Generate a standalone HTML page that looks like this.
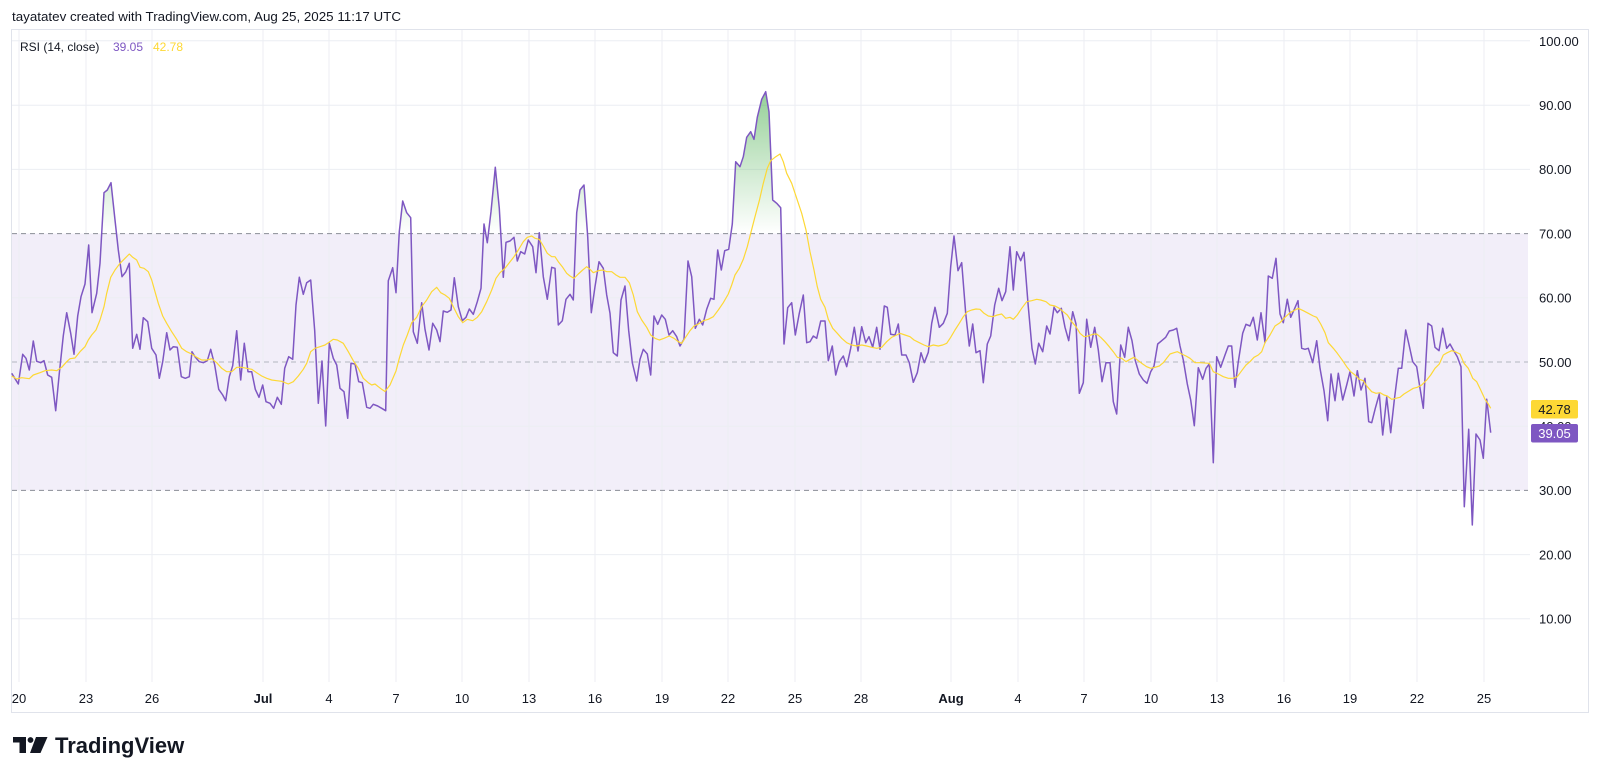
<!DOCTYPE html>
<html><head><meta charset="utf-8"><style>
html,body{margin:0;padding:0;background:#fff;}
svg{display:block;}
text{font-family:"Liberation Sans",sans-serif;}
</style></head><body>
<svg width="1600" height="779" viewBox="0 0 1600 779" xmlns="http://www.w3.org/2000/svg">
<defs>
<linearGradient id="gf" gradientUnits="userSpaceOnUse" x1="0" y1="41" x2="0" y2="233.6">
<stop offset="0" stop-color="#4caf50" stop-opacity="0.8"/>
<stop offset="1" stop-color="#4caf50" stop-opacity="0"/>
</linearGradient>
<clipPath id="above"><rect x="12" y="30" width="1516" height="203.6"/></clipPath>
</defs>
<rect width="1600" height="779" fill="#fff"/>
<text x="12" y="21" font-size="13" fill="#131722" textLength="389" lengthAdjust="spacingAndGlyphs">tayatatev created with TradingView.com, Aug 25, 2025 11:17 UTC</text>

<!-- band -->
<rect x="12" y="233.6" width="1516" height="256.8" fill="#7E57C2" fill-opacity="0.1"/>

<!-- grid -->
<g stroke="#eceef3" stroke-width="1">
<line x1="12" y1="40.7" x2="1530" y2="40.7"/>
<line x1="12" y1="105.2" x2="1530" y2="105.2"/>
<line x1="12" y1="169.4" x2="1530" y2="169.4"/>
<line x1="12" y1="297.8" x2="1528" y2="297.8"/>
<line x1="12" y1="426.2" x2="1528" y2="426.2"/>
<line x1="12" y1="554.6" x2="1530" y2="554.6"/>
<line x1="12" y1="618.8" x2="1530" y2="618.8"/>
<line x1="19" y1="30" x2="19" y2="682"/>
<line x1="86" y1="30" x2="86" y2="682"/>
<line x1="152" y1="30" x2="152" y2="682"/>
<line x1="263" y1="30" x2="263" y2="682"/>
<line x1="329" y1="30" x2="329" y2="682"/>
<line x1="396" y1="30" x2="396" y2="682"/>
<line x1="462" y1="30" x2="462" y2="682"/>
<line x1="529" y1="30" x2="529" y2="682"/>
<line x1="595" y1="30" x2="595" y2="682"/>
<line x1="662" y1="30" x2="662" y2="682"/>
<line x1="728" y1="30" x2="728" y2="682"/>
<line x1="795" y1="30" x2="795" y2="682"/>
<line x1="861" y1="30" x2="861" y2="682"/>
<line x1="951" y1="30" x2="951" y2="682"/>
<line x1="1018" y1="30" x2="1018" y2="682"/>
<line x1="1084" y1="30" x2="1084" y2="682"/>
<line x1="1151" y1="30" x2="1151" y2="682"/>
<line x1="1217" y1="30" x2="1217" y2="682"/>
<line x1="1284" y1="30" x2="1284" y2="682"/>
<line x1="1350" y1="30" x2="1350" y2="682"/>
<line x1="1417" y1="30" x2="1417" y2="682"/>
<line x1="1484" y1="30" x2="1484" y2="682"/>
</g>
<!-- frame -->
<rect x="11.5" y="29.5" width="1577" height="683" fill="none" stroke="#e0e3eb" stroke-width="1"/>

<!-- dashed levels -->
<g stroke-width="1" stroke-dasharray="5,4">
<line x1="12" y1="233.6" x2="1528" y2="233.6" stroke="#8a8d96"/>
<line x1="12" y1="362" x2="1528" y2="362" stroke="#b2b5be"/>
<line x1="12" y1="490.4" x2="1528" y2="490.4" stroke="#8a8d96"/>
</g>

<!-- green fill above 70 -->
<polygon clip-path="url(#above)" fill="url(#gf)" points="11.7,233.6 11.7,373.3 18.3,384 22.7,354.3 26,358.3 29.3,370 33.3,341 36.7,361.3 40.7,362.7 44,360.7 47.7,375 51.7,377.3 55.7,410.7 59.3,373.3 63.3,335.7 66.7,312.7 70.7,333.3 74,354.3 77.7,316 81,296.7 85,284 88.7,245 92,312.7 96.7,293.3 100,263.3 104,192.7 107.3,190 111,182.7 115,220 118.3,250 122,276.7 125.7,272 129.3,263.3 132.7,348.3 388.3,280.7 392.7,267.7 396,292.7 399.3,231.7 402.7,201 406.7,212.7 410.7,217.7 413.3,331.7 481,288.3 484,224 487.3,242.7 491,211.7 495.3,167.3 499.3,208.3 503.3,277.3 506,242.3 510,241 514,237.3 517.3,261 520.7,251.7 524.7,254 528.3,240 532.7,246.7 536,272.7 539.3,232.7 543.3,276.7 573.3,300 576.7,212.7 580,190 584,185 587.7,236.7 591.3,312.7 714,299.3 717.7,250 721.3,270 724.7,250.7 728.7,249.3 732.3,224 735.7,161.7 740,166.7 743.3,156.7 746.7,137.3 750.7,131.7 754,139.3 757.3,117.3 761.7,99.3 765.7,91.7 769,111.7 772.7,200 776.7,203.3 780.7,207.7 784,344 1490.7,432.7 1490.7,233.6"/>

<!-- RSI line -->
<polyline fill="none" stroke="#7E57C2" stroke-width="1.5" stroke-linejoin="round" points="11.7,373.3 18.3,384 22.7,354.3 26,358.3 29.3,370 33.3,341 36.7,361.3 40.7,362.7 44,360.7 47.7,375 51.7,377.3 55.7,410.7 59.3,373.3 63.3,335.7 66.7,312.7 70.7,333.3 74,354.3 77.7,316 81,296.7 85,284 88.7,245 92,312.7 96.7,293.3 100,263.3 104,192.7 107.3,190 111,182.7 115,220 118.3,250 122,276.7 125.7,272 129.3,263.3 132.7,348.3 136.7,334.3 140,349.3 143.3,317.7 147.7,321.7 151.7,348.3 156,355 159.3,378.3 162.7,361.7 166.7,332.7 170,350 173.3,346.7 177.3,347.3 181.3,376.7 185.3,378.3 189.3,376.7 192,351.7 195,356.7 199.3,361.7 203.3,362.7 207.3,360.7 210.7,349.3 214.7,365 218.7,389.3 222.7,395 225.7,400.7 229.3,376.7 232.7,365.7 236.7,330.7 240.7,380 244.3,343.3 248,371.7 251.7,371.7 255.3,389.3 259,397.3 262.7,385 266,401.7 270,403.3 273.7,408.3 277.3,397.3 281.3,404.3 284.7,368.3 288.7,356.7 292.7,359.3 296,305 299.3,277.3 303.3,294.3 306.7,282.7 310.7,280 314.7,330.7 318.3,403.3 322,361 325.7,426 329.3,343.3 333.3,358.3 336.7,365 340,388.3 344,391.7 347.7,418.3 351,363.3 355,364 358.7,381.7 362.3,382.7 366.7,407.3 370,408.3 373.3,404.3 377.7,406 381.7,408.3 385.7,410.7 388.3,280.7 392.7,267.7 396,292.7 399.3,231.7 402.7,201 406.7,212.7 410.7,217.7 413.3,331.7 417.3,343.3 421.7,302.7 425,329.3 429,350 432.7,323.3 436.7,330 440,341.7 443.3,311 447.3,312.3 451,310 454.3,277.7 458.3,306.7 462.3,320.7 466,317.3 469.3,309 473.3,314.3 477.3,301.7 481,288.3 484,224 487.3,242.7 491,211.7 495.3,167.3 499.3,208.3 503.3,277.3 506,242.3 510,241 514,237.3 517.3,261 520.7,251.7 524.7,254 528.3,240 532.7,246.7 536,272.7 539.3,232.7 543.3,276.7 547.3,299.3 551.7,267.3 555,268.3 558.3,325 562.3,320.7 566,299.3 570,294.3 573.3,300 576.7,212.7 580,190 584,185 587.7,236.7 591.3,312.7 595,286.7 599,261.7 603.3,268.3 606.7,295 610,313.3 613.3,352.7 617.3,356 621,300 625,286 628.7,330.7 632.3,362.7 636.7,381 640,359.3 643.3,349.3 647.3,354 650.7,375 654,316 657.7,324.3 661.7,315 665.3,319.3 669,335 672.7,330.7 676.7,336.7 680,346 684,339.3 688,261 691.7,276.7 695.3,328.3 699.3,319.3 702.7,325 706.7,309.3 710.7,298.3 714,299.3 717.7,250 721.3,270 724.7,250.7 728.7,249.3 732.3,224 735.7,161.7 740,166.7 743.3,156.7 746.7,137.3 750.7,131.7 754,139.3 757.3,117.3 761.7,99.3 765.7,91.7 769,111.7 772.7,200 776.7,203.3 780.7,207.7 784,344 787.7,307.7 791.7,302.7 795.3,335 799.3,313.3 803.3,295 806.7,342.7 810,341.7 813.3,336 816.7,338.3 820.7,321 825,321 828.3,360.7 832.3,346 835.7,375 839.3,361.7 843.3,356 846.7,366.7 850.7,348.3 854.3,327.3 858,351 861.7,326.7 865.7,342.7 869,336.7 872.7,347.3 876.7,327.3 880,349.3 884.3,306 887.3,307.3 890.7,334.3 895,335 898.3,324 901.7,355 906,355 909.3,362.7 913.3,382.3 917.3,372.7 921,352.7 924.3,362.7 928.3,352.3 931.7,323.3 935,307.3 939.3,327.3 943.3,323.3 947.3,313.3 950.7,266.7 954,236 958,270.7 961.7,262.7 965.7,313.3 969.3,346 972.7,324 976,352.7 980,350.7 983.3,382.7 987.3,344 990.7,336 994.7,305 998.7,288.3 1002,300.7 1005.7,291.7 1010,246.7 1013.3,290 1016.7,251.7 1020.7,260.7 1024,252.3 1028,303.3 1032,348.3 1035.3,364 1038.7,343.3 1042.7,351.7 1046.7,326 1050,334 1054,307.3 1057.3,312.7 1061.3,308.3 1065,327.3 1068.7,340.7 1072.7,311.7 1076,324 1079.3,393.3 1083.3,382.7 1086.7,319.3 1090.7,347.3 1094.7,327.3 1098.3,350 1102,381.7 1106,362.7 1110,362.7 1113.3,401.7 1116.7,414 1120.7,345 1124.7,357.3 1128.3,327.3 1132,340.7 1135.3,360.7 1139.3,374 1143.3,380 1147,383.3 1150.7,371.7 1154,366 1157.7,344 1161.7,340.7 1165.7,337.3 1169.3,331 1173.3,330 1176.7,328.3 1180,346 1183.3,360 1187.3,384 1190.7,400 1194.3,425.7 1198.3,367.7 1202.7,379.3 1206,368.3 1209.3,364 1213.3,462.7 1216.7,356.7 1220.7,367.3 1225,355 1228.3,346 1231.7,346 1235,387.3 1238.3,361.7 1242.7,333.3 1246,324.3 1250,326 1253.3,317.3 1257.3,340 1261,312.7 1265,342.7 1268.3,276 1272.3,278.3 1276,258.3 1280,314 1283.3,322.7 1287.3,299.3 1290.7,317.3 1294.3,309.3 1298,300.7 1301.7,348.3 1305,349.3 1308.3,348.3 1312.7,362.7 1316.7,340.7 1320,368.3 1324,390.7 1327.7,420.7 1331,374 1335,400.7 1338.3,373.3 1342.7,400 1346.7,385 1350,371.7 1354,396 1357.3,370.7 1361,390 1365,378.3 1368.7,421.7 1371.7,422.7 1375.3,408.3 1379.3,394 1382.7,435 1386.7,397.3 1390.7,432.7 1394.3,400 1398.3,368.3 1401.7,368.3 1405.7,330 1409.3,346 1412.7,361.7 1416.7,366.7 1420,388.3 1423.3,408.3 1428,323.3 1431.7,326 1435,347.3 1439,350.7 1442.7,328.3 1446.7,348.3 1450,344 1453.3,350 1457.3,356.7 1461,366.7 1464.3,506.7 1468.7,429.3 1472.3,525 1476,434 1480,440 1483.3,458.3 1486.7,399.3 1490.7,432.7"/>

<!-- MA line -->
<polyline fill="none" stroke="#FDD835" stroke-width="1.2" stroke-linejoin="round" points="11.7,376 16.7,379 21.7,377.7 29.3,378.7 33.3,375 40,372.7 45,370.7 51.7,370 56.7,370.7 61.7,367.3 66.7,361.7 70,358.7 75,358 80,351.7 85,346.7 88.3,340 91.7,335 96,330 100,320 104,306.7 106.7,293.3 110.7,277.3 115,270 120,263.3 125,258.3 129.3,254 132.7,257.3 136.7,260 140,267.3 144,268.3 148.3,271.7 151.7,280 155,291.7 158.3,303.3 162.7,316 166.7,323.3 171.7,331.7 176.7,339.3 181.7,348.3 186.7,351.7 191.7,354 196.7,357.3 201.7,360 206.7,360 211.7,358.7 216.7,362.7 221.7,368.3 226.7,371.7 231.7,371.7 236.7,367.3 241.7,367.3 246.7,368.3 251.7,369.3 256.7,372.7 261.7,376 266.7,378.3 271.7,380 276.7,380.7 281.7,381.3 288.3,384 293.3,381.7 298.3,376 303.3,369.3 306.7,363.3 310.7,351.7 315,348.3 320,346.7 325,345 328.3,342.7 333.3,339.3 337.3,340 343.3,343.3 348.3,351.7 353.3,360.7 358.3,368.3 363.3,378.3 368.3,382.7 371.7,385 375,384 378.3,386.7 381.7,389.3 385,391.5 390,385 396,371 399.3,358.3 403.3,345 407.3,335 411.7,322.7 416.7,317.3 421.7,306.7 426.7,300 431.7,291.7 436.7,287.3 440.7,292.7 445,295 449.3,298.3 453.3,306.7 458.3,316.7 462.7,322.7 467.3,319.3 472.7,320.7 477.3,317.3 481.7,311.7 486.7,301.7 491.7,290 496,278.3 500,272.7 505,268.3 509.3,262.7 514,256.7 518.3,250 523.3,241.7 527.3,237.3 531.7,236 535,238.3 539.3,239.3 543.3,246 547.3,253.3 551.7,256.7 555,256.7 558.3,261.7 562.7,267.3 566.7,273.3 570,276 574,278.3 578.3,274 582.7,270 586.7,266.7 590,269.3 593.3,272.7 598.3,270.7 602.7,270 606.7,271.7 611.7,271.7 616,275 620,277.3 625,277.3 629.3,282.7 633.3,295 637.3,311.7 641.7,320 646.7,327.3 650.7,335 655,338.3 659.3,340 664,338.3 669.3,336 674,338.3 678.3,341.7 681.7,343.3 686,336.7 690,330.7 694,326 698.3,324 703.3,320.7 708.3,319.3 713.3,316.7 718.3,310 723.3,302.7 728.3,294 731.7,285 735,275 739.3,268.3 743.3,259.3 747.3,246.7 750.7,233.3 755,216.7 759.3,200.7 763.3,183.3 767.3,168.3 770.7,160.7 775,157.3 780,154 783.3,161.7 786.7,173.3 791.7,183.3 796.7,198.3 801.7,213.3 806,230 810,251.7 814,270 817.3,286.7 820.7,299.3 825,307.3 828.3,319.3 832.7,328.3 837.3,333.3 841.7,338.3 846.7,342.7 851.7,345 856.7,346 861.7,345 866.7,346 871.7,347.3 876.7,348.3 881.7,347.3 886.7,341.7 891.7,337.3 896.7,335 900,333.3 905,335 910,336.7 914,340 919.3,342.7 924,345 928.3,346.7 933.3,345 938.3,346 942.7,345 946.7,343.3 950.7,337.3 955,330 959.3,323.3 963.3,316.7 967.3,311.7 971.7,310 976,309 980,309.3 984,313.3 988.3,316 992.7,316.7 997.3,315 1001.7,314 1005.7,318.3 1010,317.3 1013.3,319.3 1017.3,315 1021.7,308.3 1026.7,301.7 1031.7,300.7 1036.7,299.3 1040.7,300 1046,301.7 1050,305 1055,306 1059.3,308.3 1063.3,311.7 1067.3,315 1071.7,321.7 1076,326.7 1080,333.3 1084,336.7 1088.3,336 1092.7,334.3 1096.7,334 1100.7,337.3 1105,341.7 1109.3,346.7 1113.3,351.7 1117.3,357.3 1121.7,358.3 1126,361.7 1130,359.3 1134,357.3 1138.3,360.7 1142.7,364 1146.7,366.7 1150.7,368.3 1155,367.3 1159.3,366 1163.3,362.7 1166.7,358.3 1170,354 1174,352.7 1177.3,351.7 1181.7,354 1186,356 1190,358.3 1195,362.7 1200,362.7 1209.3,363.3 1213.3,371.7 1218.3,374 1223.3,376.7 1228.3,378.3 1233.3,378.3 1237.3,376.7 1241.7,370.7 1246,365 1250,361.7 1254,357.3 1258.3,355 1261.7,351.7 1265,342.7 1270,335 1275,326 1280,322.7 1285,317.3 1290,312.7 1295,310 1298.3,308.3 1303.3,310.7 1308.3,313.3 1313.3,316 1316.7,317.3 1320.7,324 1325,332.7 1328.3,342.7 1333.3,348.3 1337.3,353.3 1341.7,359.3 1346.7,366.7 1350.7,371.7 1355,375 1359.3,379.3 1363.3,380.7 1367.3,386.7 1371.7,391.7 1376,393.3 1380,392.7 1384,395 1387.3,396 1391.7,399.3 1396,398.3 1400,397.3 1404,394 1409.3,390.7 1413.3,388.3 1417.3,387.3 1421.7,385 1426.7,380 1430.7,375 1435,368.3 1439.3,364 1443.3,355 1447.3,352.7 1451.7,350.7 1455,351.7 1460,354 1464,363.3 1468.3,368.3 1472.7,378.3 1476.7,381.7 1480.7,390 1485,399.3 1488.3,404 1490.7,408.3"/>

<!-- legend -->
<text x="20" y="51" font-size="12" fill="#131722">RSI (14, close)</text>
<text x="113" y="51" font-size="12" fill="#7E57C2">39.05</text>
<text x="153" y="51" font-size="12" fill="#FDD835">42.78</text>

<!-- y axis labels -->
<g font-size="13" fill="#131722">
<text x="1539" y="46.2">100.00</text>
<text x="1539" y="110">90.00</text>
<text x="1539" y="174.2">80.00</text>
<text x="1539" y="238.4">70.00</text>
<text x="1539" y="302.6">60.00</text>
<text x="1539" y="366.8">50.00</text>
<text x="1539" y="431">40.00</text>
<text x="1539" y="495.2">30.00</text>
<text x="1539" y="559.4">20.00</text>
<text x="1539" y="623.6">10.00</text>
</g>
<rect x="1531" y="400" width="47" height="18.5" rx="2" fill="#FDD835"/>
<text x="1554.5" y="413.8" font-size="13" fill="#131722" text-anchor="middle">42.78</text>
<rect x="1531" y="424" width="47" height="18.5" rx="2" fill="#7E57C2"/>
<text x="1554.5" y="437.8" font-size="13" fill="#ffffff" text-anchor="middle">39.05</text>

<!-- x axis labels -->
<g font-size="13" fill="#131722" text-anchor="middle">
<text x="19" y="703">20</text>
<text x="86" y="703">23</text>
<text x="152" y="703">26</text>
<text x="263" y="703" font-weight="bold">Jul</text>
<text x="329" y="703">4</text>
<text x="396" y="703">7</text>
<text x="462" y="703">10</text>
<text x="529" y="703">13</text>
<text x="595" y="703">16</text>
<text x="662" y="703">19</text>
<text x="728" y="703">22</text>
<text x="795" y="703">25</text>
<text x="861" y="703">28</text>
<text x="951" y="703" font-weight="bold">Aug</text>
<text x="1018" y="703">4</text>
<text x="1084" y="703">7</text>
<text x="1151" y="703">10</text>
<text x="1217" y="703">13</text>
<text x="1284" y="703">16</text>
<text x="1350" y="703">19</text>
<text x="1417" y="703">22</text>
<text x="1484" y="703">25</text>
</g>

<!-- logo -->
<g fill="#131722">
<rect x="13" y="737" width="13" height="5.5"/>
<rect x="19.5" y="737" width="6.5" height="16"/>
<circle cx="30.5" cy="740" r="2.9"/>
<polygon points="36,737 47.5,737 40.5,753 30,753"/>
</g>
<text x="55" y="753" font-size="22" font-weight="bold" fill="#131722">TradingView</text>
</svg>
</body></html>
